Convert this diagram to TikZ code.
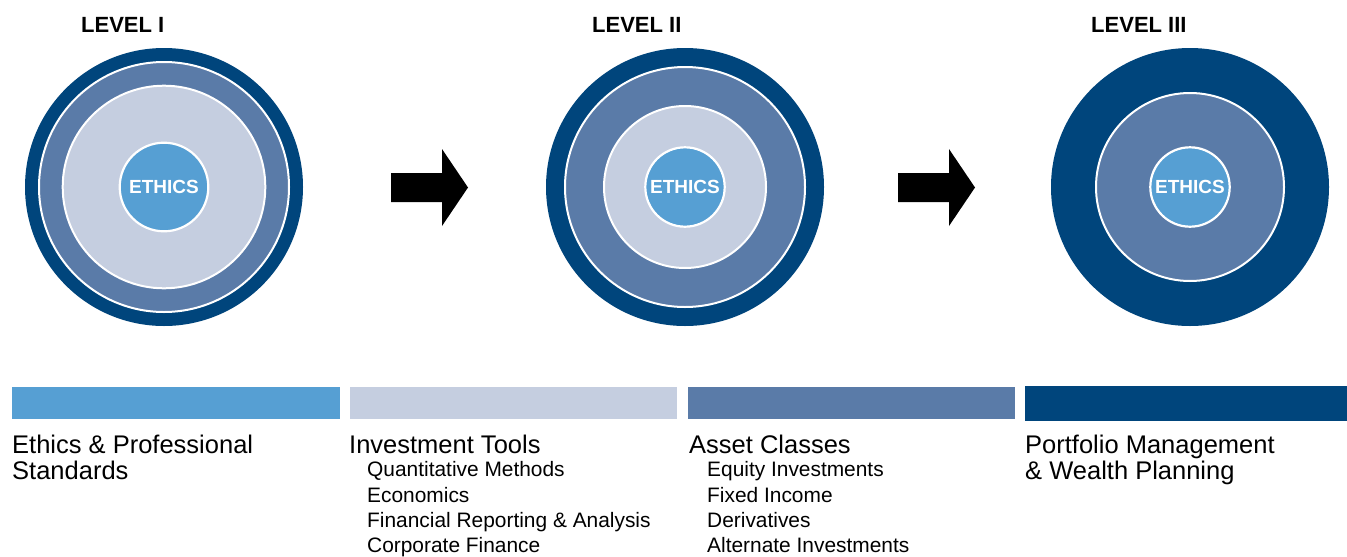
\documentclass[tikz,border=0pt]{standalone}
\usepackage{fontspec}
\setmainfont{Liberation Sans}
\definecolor{navy}{HTML}{00457C}
\definecolor{midblue}{HTML}{5A7BA8}
\definecolor{lightblue}{HTML}{C5CEE0}
\definecolor{ethicsblue}{HTML}{569FD3}
\tikzset{
  disc/.style={circle, inner sep=0pt, outer sep=0pt, fill=navy, minimum size=#1},
  ringdisc/.style={circle, inner sep=0pt, outer sep=0pt, draw=white, line width=2pt, minimum size=#1},
  ethicsnode/.style={circle, inner sep=0pt, outer sep=0pt, draw=white, line width=2.2pt, fill=ethicsblue,
     minimum size=#1, text=white, font=\fontsize{19}{19}\selectfont\bfseries},
  leveltitle/.style={anchor=base west, inner sep=0pt, font=\fontsize{22}{22}\selectfont\bfseries},
  headtext/.style={anchor=base west, inner sep=0pt, font=\fontsize{25.5}{26}\selectfont},
  subtext/.style={anchor=base west, inner sep=0pt, font=\fontsize{20.9}{21}\selectfont},
  bigarrow/.style={fill=black},
}
\begin{document}
\begin{tikzpicture}[x=1pt,y=-1pt]
\useasboundingbox[fill=white] (0,0) rectangle (1347,557);

% Level titles
\node[leveltitle] (t1) at (81,32) {LEVEL I};
\node[leveltitle] (t2) at (592,32) {LEVEL II};
\node[leveltitle] (t3) at (1091,32) {LEVEL III};

% Level I
\node[disc=278] (c1o) at (164,187) {};
\node[ringdisc=250, fill=midblue] (c1m) at (164,187) {};
\node[ringdisc=202.6, fill=lightblue] (c1l) at (164,187) {};
\node[ethicsnode=88.6] (e1) at (164,187) {ETHICS};

% Level II
\node[disc=278] (c2o) at (685,187) {};
\node[ringdisc=240, fill=midblue] (c2m) at (685,187) {};
\node[ringdisc=162, fill=lightblue] (c2l) at (685,187) {};
\node[ethicsnode=79.4] (e2) at (685,187) {ETHICS};

% Level III
\node[disc=278] (c3o) at (1190,187) {};
\node[ringdisc=188, fill=midblue] (c3m) at (1190,187) {};
\node[ethicsnode=79.4] (e3) at (1190,187) {ETHICS};

% Arrows
\fill[bigarrow] (391,173) -- (442,173) -- (442,149) -- (468,187.5) -- (442,226) -- (442,202) -- (391,202) -- cycle;
\fill[bigarrow] (898,173) -- (949,173) -- (949,149) -- (975,187.5) -- (949,226) -- (949,202) -- (898,202) -- cycle;

% Bars
\fill[ethicsblue] (12,387) rectangle (340,419);
\fill[lightblue] (350,387) rectangle (677,419);
\fill[midblue] (688,387) rectangle (1015,419);
\fill[navy] (1025,386) rectangle (1347,421);

% Texts
\node[headtext] (h1a) at (12,453.5) {Ethics \& Professional};
\node[headtext] (h1b) at (12,479.5) {Standards};

\node[headtext] (h2) at (349,453.5) {Investment Tools};
\node[subtext] (s21) at (367,476.5) {Quantitative Methods};
\node[subtext] (s22) at (367,502) {Economics};
\node[subtext] (s23) at (367,527) {Financial Reporting \& Analysis};
\node[subtext] (s24) at (367,552.5) {Corporate Finance};

\node[headtext] (h3) at (689,453.5) {Asset Classes};
\node[subtext] (s31) at (707,476.5) {Equity Investments};
\node[subtext] (s32) at (707,502) {Fixed Income};
\node[subtext] (s33) at (707,527) {Derivatives};
\node[subtext] (s34) at (707,552.5) {Alternate Investments};

\node[headtext] (h4a) at (1025,453.5) {Portfolio Management};
\node[headtext] (h4b) at (1025,479.5) {\& Wealth Planning};
\end{tikzpicture}
\end{document}
